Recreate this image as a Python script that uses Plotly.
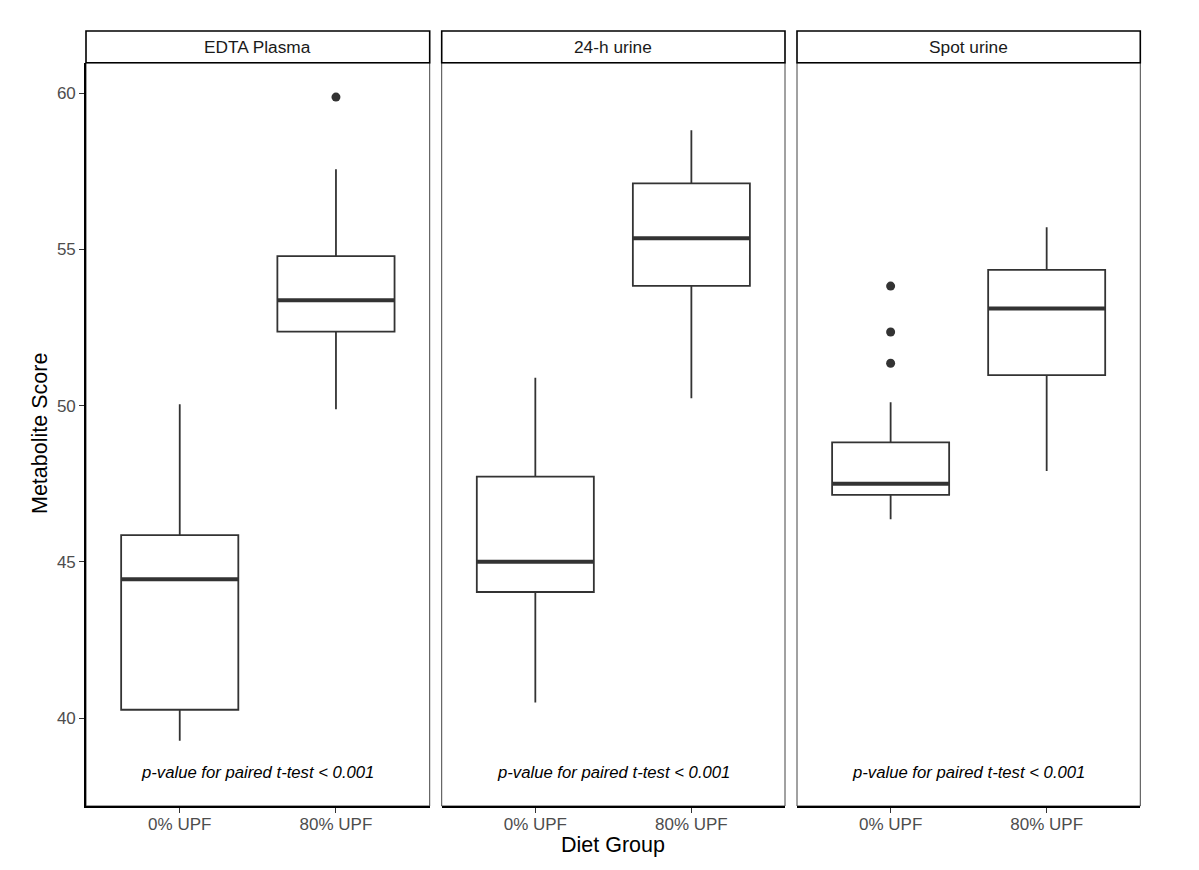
import plotly.graph_objects as go

# ---------- data ----------
panels = ["EDTA Plasma", "24-h urine", "Spot urine"]
groups = ["0% UPF", "80% UPF"]

lower_whisker = [[39.28, 49.89], [40.50, 50.24], [46.37, 47.91]]
q1 = [[40.27, 52.37], [44.04, 53.84], [47.15, 50.98]]
median = [[44.45, 53.38], [45.01, 55.36], [47.50, 53.11]]
q3 = [[45.86, 54.79], [47.73, 57.12], [48.83, 54.35]]
upper_whisker = [[50.05, 57.57], [50.90, 58.82], [50.11, 55.71]]

outlier_panel = [0, 2, 2, 2]
outlier_group = [1, 0, 0, 0]
outlier_value = [59.88, 53.83, 52.36, 51.36]

p_text = "p-value for paired t-test < 0.001"
p_text_y = 38.25

y_ticks = [40, 45, 50, 55, 60]

# ---------- style ----------
W, H = 1199, 870
OFF = 8  # page body margin in the browser
FONT = "Liberation Sans, Arial, Helvetica, sans-serif"
INK = "#333333"
BOX_W = 0.75
x_doms = [(86, 429.7), (441.7, 785), (797, 1140.3)]
y_top, y_bot = 62.7, 806
y_dom = (1 - (y_bot - OFF) / H, 1 - (y_top - OFF) / H)
strip_h = 31.7 / (y_bot - y_top)  # in y-domain units

fig = go.Figure()

for p, name in enumerate(panels):
    sfx = "" if p == 0 else str(p + 1)
    xs = [i + 1 for i in range(len(groups))]
    fig.add_trace(
        go.Box(
            x=xs,
            q1=q1[p],
            median=median[p],
            q3=q3[p],
            lowerfence=lower_whisker[p],
            upperfence=upper_whisker[p],
            width=BOX_W,
            whiskerwidth=0,
            fillcolor="white",
            line=dict(color=INK, width=1.8),
            boxpoints=False,
            hoverinfo="skip",
            showlegend=False,
            xaxis="x" + sfx,
            yaxis="y" + sfx,
        )
    )
    # thick median bar, like ggplot's fatten
    for i, m in enumerate(median[p]):
        fig.add_trace(
            go.Scatter(
                x=[xs[i] - BOX_W / 2, xs[i] + BOX_W / 2],
                y=[m, m],
                mode="lines",
                line=dict(color=INK, width=4),
                showlegend=False,
                hoverinfo="skip",
                xaxis="x" + sfx,
                yaxis="y" + sfx,
            )
        )
    ox = [outlier_group[k] + 1 for k in range(len(outlier_value)) if outlier_panel[k] == p]
    oy = [outlier_value[k] for k in range(len(outlier_value)) if outlier_panel[k] == p]
    if ox:
        fig.add_trace(
            go.Scatter(
                x=ox,
                y=oy,
                mode="markers",
                marker=dict(color=INK, size=9),
                showlegend=False,
                hoverinfo="skip",
                xaxis="x" + sfx,
                yaxis="y" + sfx,
            )
        )

    # panel border + strip
    fig.add_shape(
        type="rect", xref=f"x{sfx} domain", yref=f"y{sfx} domain",
        x0=0, x1=1, y0=0, y1=1, line=dict(color="#444444", width=1), layer="below",
    )
    fig.add_shape(
        type="rect", xref=f"x{sfx} domain", yref=f"y{sfx} domain",
        x0=0, x1=1, y0=1, y1=1 + strip_h, fillcolor="white",
        line=dict(color="black", width=1.6),
    )
    fig.add_annotation(
        text=name, xref=f"x{sfx} domain", yref=f"y{sfx} domain",
        x=0.5, y=1 + strip_h / 2, xanchor="center", yanchor="middle", showarrow=False,
        font=dict(family=FONT, size=17.3, color="#1A1A1A"),
    )
    fig.add_annotation(
        text=p_text, xref="x" + sfx, yref="y" + sfx, x=1.5, y=p_text_y,
        xanchor="center", yanchor="middle",
        showarrow=False, font=dict(family=FONT, size=16.7, color="black", style="italic"),
    )

    d0, d1 = x_doms[p]
    fig.update_layout(
        {
            "xaxis" + sfx: dict(
                domain=[(d0 - OFF) / W, (d1 - OFF) / W],
                anchor="y" + sfx,
                range=[0.4, 2.6],
                tickmode="array",
                tickvals=[1, 2],
                ticktext=groups,
                ticks="outside",
                ticklen=5,
                tickwidth=1.2,
                tickcolor=INK,
                ticklabelstandoff=-3,
                showline=True,
                linecolor="black",
                linewidth=1.6,
                showgrid=False,
                zeroline=False,
                automargin=False,
                tickfont=dict(family=FONT, size=17, color="#4D4D4D"),
            ),
            "yaxis" + sfx: dict(
                domain=list(y_dom),
                anchor="x" + sfx,
                range=[37.19, 60.98],
                tickmode="array",
                tickvals=y_ticks,
                ticks="outside" if p == 0 else "",
                ticklen=5,
                tickwidth=1.2,
                tickcolor=INK,
                showticklabels=(p == 0),
                showline=(p == 0),
                linecolor="black",
                linewidth=1.6,
                showgrid=False,
                zeroline=False,
                automargin=False,
                tickfont=dict(family=FONT, size=17, color="#4D4D4D"),
            ),
        }
    )

fig.add_annotation(
    text="Diet Group", xref="paper", yref="paper",
    x=(613 - OFF) / W, y=1 - (845 - OFF) / H,
    xanchor="center", yanchor="middle",
    showarrow=False, font=dict(family=FONT, size=21.5, color="black"),
)
fig.add_annotation(
    text="Metabolite Score", xref="paper", yref="paper",
    x=(40 - OFF) / W, y=1 - (434 - OFF) / H,
    xanchor="center", yanchor="middle",
    showarrow=False, textangle=-90, font=dict(family=FONT, size=21.5, color="black"),
)

fig.update_layout(
    width=W,
    height=H,
    margin=dict(l=0, r=0, t=0, b=0),
    paper_bgcolor="white",
    plot_bgcolor="white",
    showlegend=False,
)

fig.write_html("out.html")
